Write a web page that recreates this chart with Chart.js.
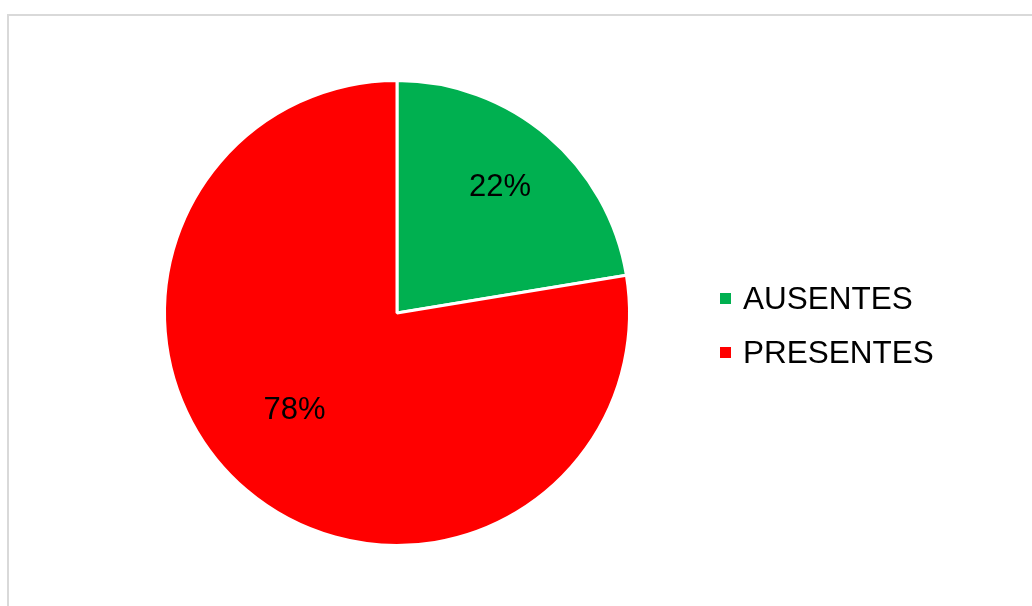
<!DOCTYPE html>
<html>
<head>
<title>Asistencia</title>
<script src="https://cdn.jsdelivr.net/npm/chart.js"></script>
<style>
    html, body { margin: 0; padding: 0; background: #fff; }
    body { width: 1032px; height: 606px; position: relative; overflow: hidden; font-family: "Liberation Sans", Arial, sans-serif; }
    #frame {
        position: absolute; left: 7px; top: 14px; width: 1040px; height: 600px;
        border: 2px solid #d9d9d9; box-sizing: border-box;
    }
    #chartBox { position: absolute; left: 0; top: 0; width: 1032px; height: 606px; }
    #legend { position: absolute; left: 720px; top: 271px; }
    .item { display: flex; align-items: center; height: 54px; font-size: 31.5px; color: #000; }
    .box { width: 11px; height: 11px; margin-right: 12px; }
</style>
</head>
<body>
<div id="frame"></div>
<div id="chartBox"><canvas id="myChart" width="1032" height="606"></canvas></div>
<div id="legend"></div>

<script>
    const categorias = ['AUSENTES', 'PRESENTES'];
    const porcentajes = [22.4, 77.6];
    const colores = ['#00b050', '#ff0000'];

    // etiquetas dentro de cada porcion (fraccion del radio, giro en grados)
    const etiquetaPos = [
        { r: 0.70, giro: -1 },
        { r: 0.61, giro: 6 }
    ];

    const etiquetas = {
        id: 'etiquetas',
        afterDatasetsDraw(chart) {
            const ctx = chart.ctx;
            const meta = chart.getDatasetMeta(0);
            ctx.save();
            ctx.font = '31px "Liberation Sans", Arial, sans-serif';
            ctx.fillStyle = '#000';
            ctx.textAlign = 'center';
            ctx.textBaseline = 'middle';
            meta.data.forEach((arc, i) => {
                const p = arc.getProps(['x', 'y', 'startAngle', 'endAngle', 'outerRadius'], true);
                const ang = (p.startAngle + p.endAngle) / 2 + etiquetaPos[i].giro * Math.PI / 180;
                const d = p.outerRadius * etiquetaPos[i].r;
                ctx.fillText(Math.round(porcentajes[i]) + '%', p.x + Math.cos(ang) * d, p.y + Math.sin(ang) * d);
            });
            ctx.restore();
        }
    };

    const ctx = document.getElementById('myChart').getContext('2d');
    const myChart = new Chart(ctx, {
        type: 'pie',
        data: {
            labels: categorias,
            datasets: [{
                data: porcentajes,
                backgroundColor: colores,
                borderColor: '#ffffff',
                borderWidth: 3
            }]
        },
        options: {
            responsive: false,
            animation: false,
            layout: {
                padding: { left: 163, right: 401, top: 79, bottom: 59 }
            },
            plugins: {
                legend: { display: false },
                tooltip: { enabled: false }
            }
        },
        plugins: [etiquetas]
    });

    const legend = document.getElementById('legend');
    categorias.forEach((c, i) => {
        const item = document.createElement('div');
        item.className = 'item';
        item.innerHTML = '<div class="box" style="background:' + colores[i] + '"></div><span>' + c + '</span>';
        legend.appendChild(item);
    });
</script>
</body>
</html>
